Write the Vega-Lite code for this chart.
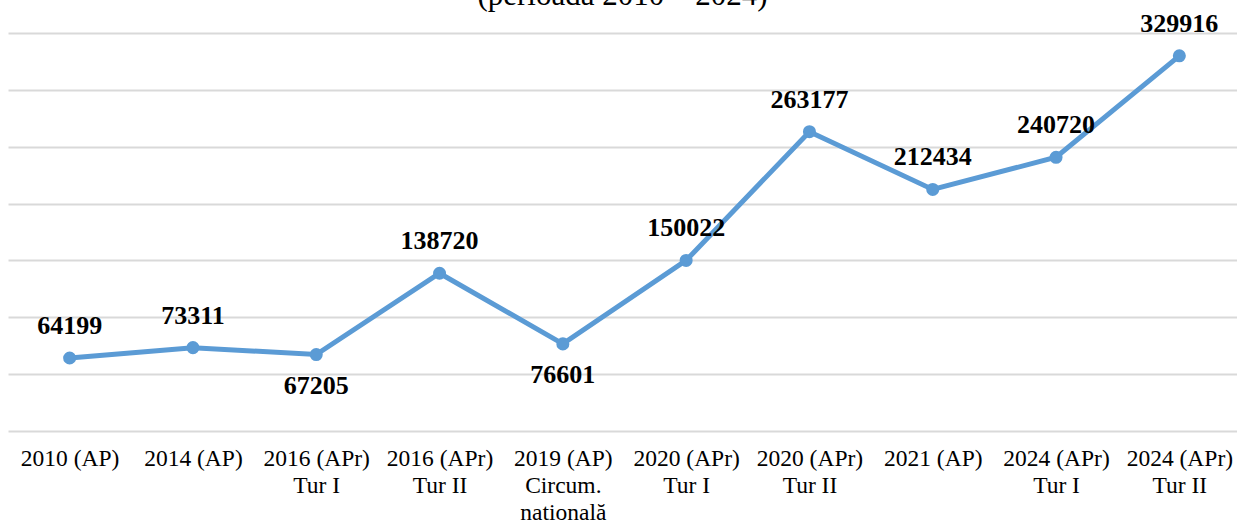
{
  "$schema": "https://vega.github.io/schema/vega-lite/v6.json",
  "autosize": {"type": "none"},
  "padding": {"left": 8, "top": 33, "right": 0, "bottom": 92},
  "width": 1229,
  "height": 398,
  "background": "white",
  "title": {
    "text": "(perioada 2010 – 2024)",
    "font": "Times New Roman, Liberation Serif, serif",
    "fontSize": 31,
    "fontWeight": "normal",
    "color": "#000000",
    "anchor": "middle",
    "baseline": "alphabetic",
    "offset": 2,
    "dy": 27
  },
  "config": {
    "view": {"stroke": null},
    "font": "Times New Roman, Liberation Serif, serif"
  },
  "data": {
    "values": [
      {"alegeri": "2010 (AP)", "votanti": 64199, "pozitie": "sus"},
      {"alegeri": "2014 (AP)", "votanti": 73311, "pozitie": "sus"},
      {"alegeri": "2016 (APr)\nTur I", "votanti": 67205, "pozitie": "jos"},
      {"alegeri": "2016 (APr)\nTur II", "votanti": 138720, "pozitie": "sus"},
      {"alegeri": "2019 (AP)\nCircum.\nnatională", "votanti": 76601, "pozitie": "jos"},
      {"alegeri": "2020 (APr)\nTur I", "votanti": 150022, "pozitie": "sus"},
      {"alegeri": "2020 (APr)\nTur II", "votanti": 263177, "pozitie": "sus"},
      {"alegeri": "2021 (AP)", "votanti": 212434, "pozitie": "sus"},
      {"alegeri": "2024 (APr)\nTur I", "votanti": 240720, "pozitie": "sus"},
      {"alegeri": "2024 (APr)\nTur II", "votanti": 329916, "pozitie": "sus"}
    ]
  },
  "encoding": {
    "x": {
      "field": "alegeri",
      "type": "nominal",
      "sort": null,
      "scale": {"range": [0, 1233], "paddingInner": 0, "paddingOuter": 0},
      "axis": {
        "title": null,
        "labelAngle": 0,
        "labelExpr": "split(datum.label, '\\n')",
        "labelFont": "Times New Roman, Liberation Serif, serif",
        "labelFontSize": 23.5,
        "labelColor": "#000000",
        "labelLineHeight": 27,
        "labelPadding": 15,
        "labelLimit": 0,
        "domain": false,
        "ticks": false,
        "grid": false
      }
    },
    "y": {
      "field": "votanti",
      "type": "quantitative",
      "scale": {"domain": [0, 350000], "nice": false},
      "axis": {
        "title": null,
        "labels": false,
        "ticks": false,
        "domain": false,
        "grid": true,
        "gridColor": "#d9d9d9",
        "gridWidth": 2,
        "values": [0, 50000, 100000, 150000, 200000, 250000, 300000, 350000]
      }
    }
  },
  "layer": [
    {
      "mark": {"type": "line", "color": "#5B9BD5", "strokeWidth": 5}
    },
    {
      "mark": {"type": "point", "filled": true, "opacity": 1, "color": "#5B9BD5", "size": 170}
    },
    {
      "transform": [{"filter": "datum.pozitie === 'sus'"}],
      "mark": {"type": "text", "font": "Times New Roman, Liberation Serif, serif", "fontSize": 26, "fontWeight": "bold", "color": "#000000", "baseline": "middle", "dy": -32},
      "encoding": {"text": {"field": "votanti", "type": "quantitative", "format": "d"}}
    },
    {
      "transform": [{"filter": "datum.pozitie === 'jos'"}],
      "mark": {"type": "text", "font": "Times New Roman, Liberation Serif, serif", "fontSize": 26, "fontWeight": "bold", "color": "#000000", "baseline": "middle", "dy": 31},
      "encoding": {"text": {"field": "votanti", "type": "quantitative", "format": "d"}}
    }
  ]
}
